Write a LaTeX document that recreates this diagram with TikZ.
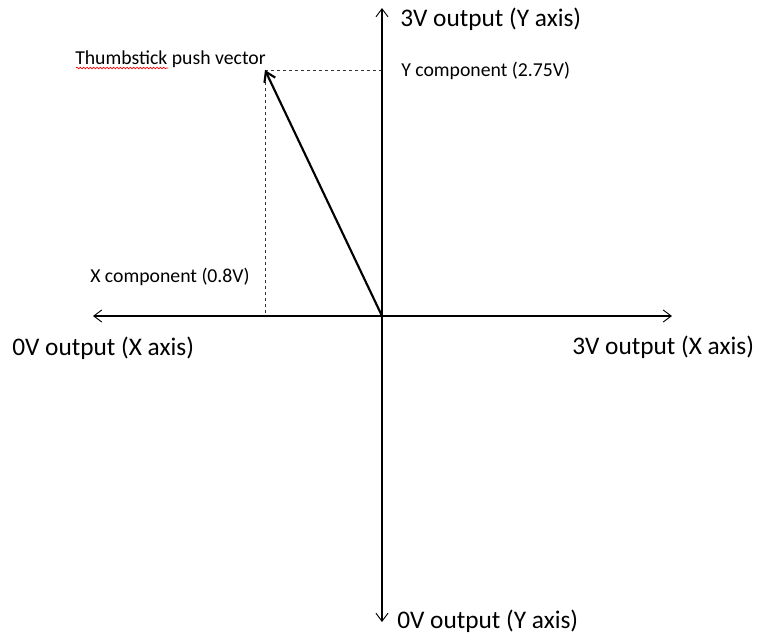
\documentclass[tikz,border=0pt]{standalone}
\usepackage{fontspec}
\setmainfont{Carlito}
\usetikzlibrary{arrows.meta,decorations.pathmorphing}
\begin{document}
\begin{tikzpicture}[x=0.75pt,y=-0.75pt,
  axis/.style={line width=0.8pt,-{Straight Barb[length=6pt,width=9pt,line width=0.7pt]}},
  vec/.style={line width=1.6pt,-{Straight Barb[length=7pt,width=9pt]}},
  guide/.style={dashed,line width=0.6pt,dash pattern=on 2.5pt off 2pt,gray!40!black},
  bigl/.style={anchor=west,inner sep=0pt,font=\fontsize{19}{22}\selectfont},
  smalll/.style={anchor=west,inner sep=0pt,font=\fontsize{14.8}{17}\selectfont},
  squiggle/.style={red,line width=0.5pt,decorate,decoration={snake,amplitude=0.6pt,segment length=2.5pt}}]
\useasboundingbox (0,0) rectangle (758,637);
\coordinate (O) at (382,316);
\coordinate (T) at (382,8);
\coordinate (B) at (382,622);
\coordinate (L) at (93,316);
\coordinate (R) at (672,316);
\coordinate (V) at (265,70);
\coordinate (Yc) at (382,70);
\coordinate (Xc) at (265,316);
\draw[guide] (V) -- (Yc);
\draw[guide] (V) -- (Xc);
\draw[axis] (O) -- (T);
\draw[axis] (O) -- (B);
\draw[axis] (O) -- (L);
\draw[axis] (O) -- (R);
\draw[vec] (O) -- (V);
\node[bigl] (ty) at (400,19) {3V output (Y axis)};
\node[bigl] (by) at (397,621) {0V output (Y axis)};
\node[bigl] (lx) at (12,348) {0V output (X axis)};
\node[bigl] (rx) at (572,347) {3V output (X axis)};
\node[smalll] (yc) at (401,71) {Y component (2.75V)};
\node[smalll] (xc) at (90,277) {X component (0.8V)};
\node[smalll] (tp) at (75,59) {Thumbstick push vector};
\coordinate (s1) at (76,68);
\coordinate (s2) at (168,68);
\draw[squiggle] (s1) -- (s2);
\end{tikzpicture}
\end{document}
